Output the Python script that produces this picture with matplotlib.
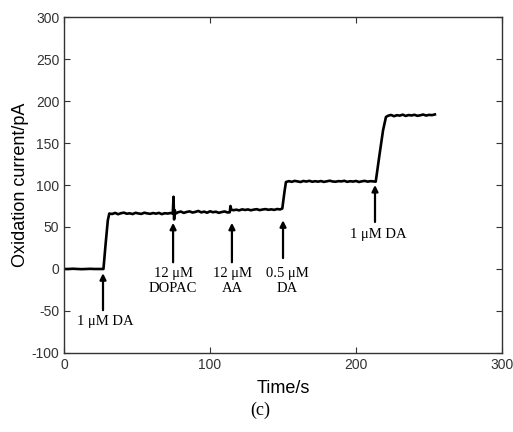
import matplotlib.pyplot as plt

plt.rcParams['axes.unicode_minus'] = False

# --- dati ---
t_base = [0, 3, 6, 9, 12, 15, 18, 21, 24, 27]
i_base = [0, 0, 0.3, 0, -0.2, 0, 0.2, 0, 0, 0]

t_rise1 = [28.5, 30, 31]
i_rise1 = [30, 58, 66]

t_plat1 = list(range(33, 75, 2))
i_plat1 = [65.5, 66.8, 65.2, 66.4, 67.1, 65.8, 66.3, 65.4, 66.9, 66.1, 65.6,
           67.0, 66.2, 65.7, 66.6, 65.9, 66.8, 65.3, 66.4, 66.0, 66.7]

t_spike1 = [74.5, 75, 75.4, 75.8, 76.5]
i_spike1 = [66, 86, 59, 70, 66]

t_plat2 = list(range(78, 113, 2))
i_plat2 = [67.5, 68.4, 66.8, 67.9, 68.6, 67.2, 68.0, 69.1, 67.4, 68.3, 67.0,
           68.7, 67.6, 68.2, 66.9, 67.8, 68.5, 67.3]

t_spike2 = [113.5, 114, 114.6, 116]
i_spike2 = [67.5, 75, 70.5, 70]

t_plat3 = list(range(118, 149, 2))
i_plat3 = [70.6, 69.8, 71.0, 70.3, 70.9, 69.9, 70.7, 71.2, 70.1, 70.8, 71.3,
           70.5, 71.0, 70.4, 71.4, 70.9]

t_rise2 = [149.5, 151, 152]
i_rise2 = [72, 92, 103.5]

t_plat4 = list(range(154, 213, 2))
i_plat4 = [104.6, 103.8, 104.9, 104.2, 103.6, 104.8, 104.1, 105.0, 103.9, 104.5,
           104.0, 104.7, 103.7, 104.4, 105.1, 104.2, 103.9, 104.6, 104.3, 105.0,
           103.8, 104.5, 104.1, 104.8, 103.6, 104.4, 104.9, 104.0, 104.6, 104.2]

t_rise3 = [213.5, 216, 218.5, 220.5]
i_rise3 = [104, 135, 165, 181]

t_plat5 = list(range(222, 255, 2))
i_plat5 = [182.5, 183.4, 181.9, 183.1, 182.6, 183.8, 182.2, 183.3, 182.8, 183.6,
           182.4, 183.0, 183.9, 182.7, 183.5, 183.2, 184.0]

time = (t_base + t_rise1 + t_plat1 + t_spike1 + t_plat2 + t_spike2 + t_plat3
        + t_rise2 + t_plat4 + t_rise3 + t_plat5)
current = (i_base + i_rise1 + i_plat1 + i_spike1 + i_plat2 + i_spike2 + i_plat3
           + i_rise2 + i_plat4 + i_rise3 + i_plat5)

# annotazioni: (x freccia, y coda, y punta, x testo, y testo, testo)
arrows = [
    (26.7, -49, -5, 28, -63, "1 \u03bcM DA"),
    (74.7, 8, 55, 74.7, -14, "12 \u03bcM\nDOPAC"),
    (115, 8, 55, 115.5, -14, "12 \u03bcM\nAA"),
    (150, 13, 58, 153, -14, "0.5 \u03bcM\nDA"),
    (213, 56, 100, 215, 40.5, "1 \u03bcM DA"),
]

fig = plt.figure(figsize=(5.13, 4.32), dpi=100)
ax = fig.add_axes([0.1248, 0.1829, 0.8538, 0.7777])

ax.plot(time, current, color='black', linewidth=1.9)

for xa, y0, y1, xt, yt, label in arrows:
    ax.annotate('', xy=(xa, y1), xytext=(xa, y0),
                arrowprops=dict(arrowstyle='-|>', color='black', lw=1.6,
                                mutation_scale=9, shrinkA=0, shrinkB=0))
    ax.text(xt, yt, label, ha='center', va='center', family='Liberation Serif',
            fontsize=10.5, linespacing=1.15)

ax.set_xlim(0, 300)
ax.set_ylim(-100, 300)
ax.set_xticks([0, 100, 200, 300])
ax.set_yticks(range(-100, 301, 50))
ax.tick_params(direction='in', top=True, right=True, length=4, width=0.8,
               labelsize=10, colors='#333333')
for lab in ax.get_xticklabels() + ax.get_yticklabels():
    lab.set_family('Liberation Sans')
for sp in ax.spines.values():
    sp.set_linewidth(1.0)
    sp.set_color('#333333')

ax.set_xlabel("Time/s", family='Liberation Sans', fontsize=13, labelpad=6)
ax.set_ylabel("Oxidation current/pA", family='Liberation Sans', fontsize=13,
              labelpad=2)

fig.text(0.508, 0.05, "(c)", ha='center', va='center',
         family='Liberation Serif', fontsize=13)

fig.savefig('out.png', dpi=100)
